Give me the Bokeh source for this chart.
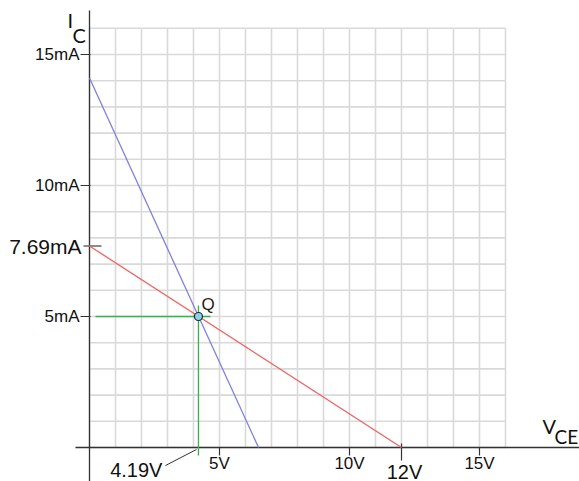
from bokeh.plotting import figure
from bokeh.models import Range1d
from bokeh.embed import file_html
from bokeh.resources import INLINE
from bokeh.core.properties import value

# ---- data ----------------------------------------------------------------
grid_max = 16                      # grid spans 0..16 V and 0..16 mA
vce_ticks = [5, 10, 15]
vce_labels = ["5V", "10V", "15V"]
ic_ticks = [5, 10, 15]
ic_labels = ["5mA", "10mA", "15mA"]

load_vce = [0, 12]                 # DC load line end points
load_ic = [7.69, 0]
curve_vce = [0, 6.5]               # second line through the Q point
curve_ic = [14.1, 0]

q_vce = 4.19
q_ic = 5.0
ic_sat = 7.69
vce_cut = 12

# ---- canvas / scales ----------------------------------------------------
W, H = 579, 481
PX_X, PX_Y = 26.0, 26.2            # pixels per volt / per mA
ORIGIN_X, ORIGIN_Y = 89, 447       # origin position in pixels (from top-left)
x0 = -ORIGIN_X / PX_X
y0 = -(H - ORIGIN_Y) / PX_Y
dx = 1 / PX_X
dy = 1 / PX_Y

p = figure(width=W, height=H, x_range=Range1d(x0, x0 + W / PX_X),
           y_range=Range1d(y0, y0 + H / PX_Y), min_border=0,
           toolbar_location=None, output_backend="svg")
p.axis.visible = False
p.grid.visible = False
p.outline_line_color = None
p.background_fill_color = "white"
p.border_fill_color = "white"

FONT = value("Liberation Sans")
TXT = "#111111"

# grid
g = list(range(0, grid_max + 1))
p.segment(x0=g, y0=[0] * len(g), x1=g, y1=[grid_max] * len(g),
          line_color="#d9d9d9", line_width=1.6)
p.segment(x0=[0] * len(g), y0=g, x1=[grid_max] * len(g), y1=g,
          line_color="#d9d9d9", line_width=1.6)

# axes
AX = "#333333"
p.segment(x0=[-14 * dx], y0=[0], x1=[x0 + W / PX_X], y1=[0], line_color=AX, line_width=1.3)
p.segment(x0=[0], y0=[y0], x1=[0], y1=[(ORIGIN_Y - 10) * dy], line_color=AX, line_width=1.3)

# tick marks
p.segment(x0=[-9 * dx] * 3, y0=ic_ticks, x1=[1 * dx] * 3, y1=ic_ticks, line_color=AX, line_width=1.2)
p.segment(x0=vce_ticks, y0=[0] * 3, x1=vce_ticks, y1=[-8 * dy] * 3, line_color=AX, line_width=1.2)
p.segment(x0=[-6 * dx], y0=[ic_sat], x1=[12 * dx], y1=[ic_sat], line_color="#666666", line_width=1.6)
p.segment(x0=[vce_cut], y0=[4 * dy], x1=[vce_cut], y1=[-13 * dy], line_color=AX, line_width=1.2)

# lines
p.line(curve_vce, curve_ic, line_color="#8080e0", line_width=1.3)
p.line(load_vce, load_ic, line_color="#f06262", line_width=1.3)

# Q point guides
p.segment(x0=[6 * dx], y0=[q_ic], x1=[q_vce + 12 * dx], y1=[q_ic], line_color="#33b54d", line_width=1.3)
p.segment(x0=[q_vce], y0=[q_ic + 11 * dy], x1=[q_vce], y1=[-8 * dy], line_color="#33b54d", line_width=1.3)
p.scatter([q_vce], [q_ic], size=8, fill_color="#8fd3e6", line_color="#1c2b3a", line_width=1.2)
p.text(x=[q_vce], y=[q_ic], text=["Q"], x_offset=3, y_offset=-12, text_align="left",
       text_baseline="middle", text_font=FONT, text_font_size="17px", text_color="#2a1a10")

# leader for the V_CE value at Q
p.segment(x0=[q_vce - 33 * dx], y0=[-18 * dy], x1=[q_vce - 2 * dx], y1=[-2 * dy],
          line_color="#333333", line_width=1)

# tick labels
p.text(x=[0] * 3, y=ic_ticks, text=ic_labels, x_offset=-10, text_align="right",
       text_baseline="middle", text_font=FONT, text_font_size="17px", text_color=TXT)
p.text(x=vce_ticks, y=[0] * 3, text=vce_labels, y_offset=16, text_align="center",
       text_baseline="middle", text_font=FONT, text_font_size="17px", text_color=TXT)
p.text(x=[0], y=[ic_sat], text=[f"{ic_sat}mA"], x_offset=-8, text_align="right",
       text_baseline="middle", text_font=FONT, text_font_size="21px", text_color=TXT)
p.text(x=[vce_cut], y=[0], text=[f"{vce_cut}V"], x_offset=3, y_offset=24, text_align="center",
       text_baseline="middle", text_font=FONT, text_font_size="20px", text_color=TXT)
p.text(x=[q_vce], y=[0], text=[f"{q_vce}V"], x_offset=-36, y_offset=22, text_align="right",
       text_baseline="middle", text_font=FONT, text_font_size="20px", text_color=TXT)

# axis titles
TFONT = value("Lato")
p.text(x=[0], y=[grid_max], text=["I"], x_offset=-22, y_offset=-8, text_align="left",
       text_baseline="middle", text_font=TFONT, text_font_size="20px", text_color=TXT)
p.text(x=[0], y=[grid_max], text=["C"], x_offset=-17, y_offset=7, text_align="left",
       text_baseline="middle", text_font=TFONT, text_font_size="20px", text_color=TXT)
p.text(x=[grid_max], y=[0], text=["V"], x_offset=37, y_offset=-22, text_align="left",
       text_baseline="middle", text_font=TFONT, text_font_size="20px", text_color=TXT)
p.text(x=[grid_max], y=[0], text=["CE"], x_offset=49, y_offset=-11, text_align="left",
       text_baseline="middle", text_font=TFONT, text_font_size="19px", text_color=TXT)

open("out.html", "w").write(file_html(p, INLINE))
